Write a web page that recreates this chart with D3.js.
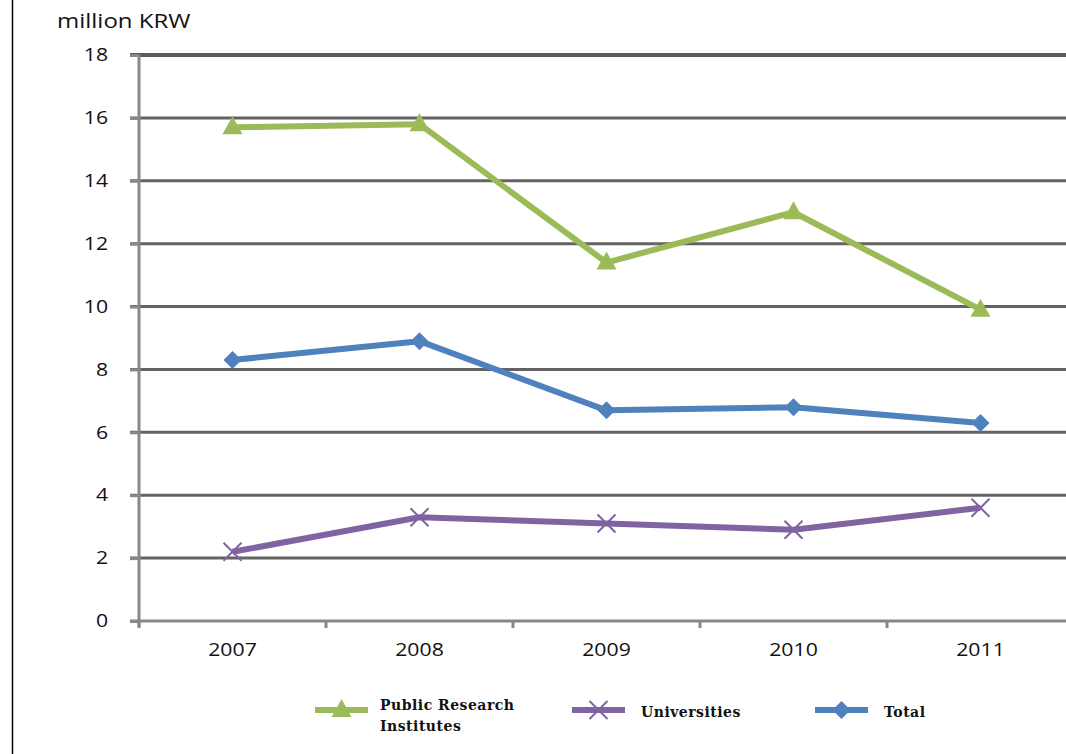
<!DOCTYPE html>
<html>
<head>
<meta charset="utf-8">
<script src="https://cdn.jsdelivr.net/npm/d3@7"></script>
<style>
  html, body { margin: 0; padding: 0; background: #fff; }
  svg { display: block; }
</style>
</head>
<body>
<svg id="chart" width="1066" height="754"></svg>
<script>
// Average research expenditure per researcher, million KRW
const years = ["2007", "2008", "2009", "2010", "2011"];
const publicResearch = [15.7, 15.8, 11.4, 13.0, 9.9];
const universities = [2.2, 3.3, 3.1, 2.9, 3.6];
const total = [8.3, 8.9, 6.7, 6.8, 6.3];
const yTicks = [0, 2, 4, 6, 8, 10, 12, 14, 16, 18];
const unitLabel = "million KRW";

const series = [
  { name: ["Public Research", "Institutes"], values: publicResearch, color: "#9bbb59", marker: "triangle" },
  { name: ["Universities"], values: universities, color: "#8064a2", marker: "cross" },
  { name: ["Total"], values: total, color: "#4f81bd", marker: "diamond" }
];

const svg = d3.select("#chart");
const plotLeft = 139, plotTop = 55, plotBottom = 621;
const band = 187;
const stretch = 1.18;           // horizontal widening of label glyphs
const sansFont = "'Open Sans', sans-serif";

const x = d3.scaleBand().domain(years).range([plotLeft, plotLeft + band * years.length]);
const y = d3.scaleLinear().domain([0, 18]).range([plotBottom, plotTop]);

// frame line on the left edge
svg.append("line").attr("x1", 12.5).attr("x2", 12.5).attr("y1", 0).attr("y2", 754)
  .attr("stroke", "#000").attr("stroke-width", 1.5);

// horizontal gridlines
svg.append("g").selectAll("line").data(yTicks.filter(d => d > 0)).join("line")
  .attr("x1", plotLeft - 9).attr("x2", 1066)
  .attr("y1", d => y(d)).attr("y2", d => y(d))
  .attr("stroke", d => d === 18 ? "#5a5a5a" : "#636363")
  .attr("stroke-width", d => d === 18 ? 4 : 3);

// y axis
const yAxis = svg.append("g").attr("transform", `translate(${plotLeft},0)`)
  .call(d3.axisLeft(y).tickValues(yTicks).tickSize(9).tickPadding(21));
yAxis.select(".domain").attr("stroke", "#888").attr("stroke-width", 3)
  .attr("d", `M0,${plotTop}V${plotBottom + 6}`);
yAxis.selectAll(".tick line").attr("stroke", "#888").attr("stroke-width", 3);
yAxis.selectAll(".tick text").attr("font-family", sansFont)
  .attr("font-size", 18).attr("fill", "#111")
  .attr("x", -31 / stretch).attr("transform", `scale(${stretch},1)`);

// x axis
const xAxis = svg.append("g").attr("transform", `translate(0,${plotBottom})`)
  .call(d3.axisBottom(x).tickSize(0).tickPadding(22));
xAxis.select(".domain").attr("stroke", "#888").attr("stroke-width", 3)
  .attr("d", `M${plotLeft - 9},0H1066`);
xAxis.selectAll(".tick text").attr("font-family", sansFont)
  .attr("font-size", 18).attr("fill", "#111")
  .attr("transform", `scale(${stretch},1)`);
// category boundary ticks
svg.append("g").selectAll("line").data(years).join("line")
  .attr("x1", d => x(d)).attr("x2", d => x(d))
  .attr("y1", plotBottom).attr("y2", plotBottom + 7)
  .attr("stroke", "#888").attr("stroke-width", 3);

// unit label
svg.append("text").attr("x", 57 / 1.2).attr("y", 28).text(unitLabel)
  .attr("transform", "scale(1.2,1)")
  .attr("font-family", sansFont).attr("font-size", 20).attr("fill", "#111");

const cx = d => x(d) + x.bandwidth() / 2;

function drawMarker(g, type, color, px, py) {
  if (type === "triangle") {
    g.append("path").attr("d", `M${px},${py - 11}L${px + 10},${py + 7}L${px - 10},${py + 7}Z`).attr("fill", color);
  } else if (type === "diamond") {
    g.append("path").attr("d", `M${px},${py - 9}L${px + 9},${py}L${px},${py + 9}L${px - 9},${py}Z`).attr("fill", color);
  } else {
    g.append("path").attr("d", `M${px - 9},${py - 9}L${px + 9},${py + 9}M${px - 9},${py + 9}L${px + 9},${py - 9}`)
      .attr("stroke", color).attr("stroke-width", 2).attr("fill", "none");
  }
}

const line = d3.line().x((d, i) => cx(years[i])).y(d => y(d));
series.forEach(s => {
  const g = svg.append("g");
  g.append("path").datum(s.values).attr("d", line)
    .attr("fill", "none").attr("stroke", s.color).attr("stroke-width", 6)
    .attr("stroke-linejoin", "round");
  s.values.forEach((v, i) => drawMarker(g, s.marker, s.color, cx(years[i]), y(v)));
});

// legend
const legendX = [315, 572, 815];
series.forEach((s, i) => {
  const g = svg.append("g").attr("transform", `translate(${legendX[i]},710)`);
  g.append("line").attr("x1", 0).attr("x2", 53).attr("y1", 0).attr("y2", 0)
    .attr("stroke", s.color).attr("stroke-width", 6);
  drawMarker(g, s.marker, s.color, 26.5, 0);
  const t = g.append("text")
    .attr("font-family", "'DejaVu Serif', 'Liberation Serif', serif")
    .attr("font-weight", "bold").attr("font-size", 14).attr("fill", "#111")
    .attr("letter-spacing", 0.5);
  s.name.forEach((n, k) => {
    t.append("tspan").attr("x", i === 0 ? 65 : 69)
      .attr("y", s.name.length > 1 ? 0 + k * 21 : 7).text(n);
  });
});
</script>
</body>
</html>
